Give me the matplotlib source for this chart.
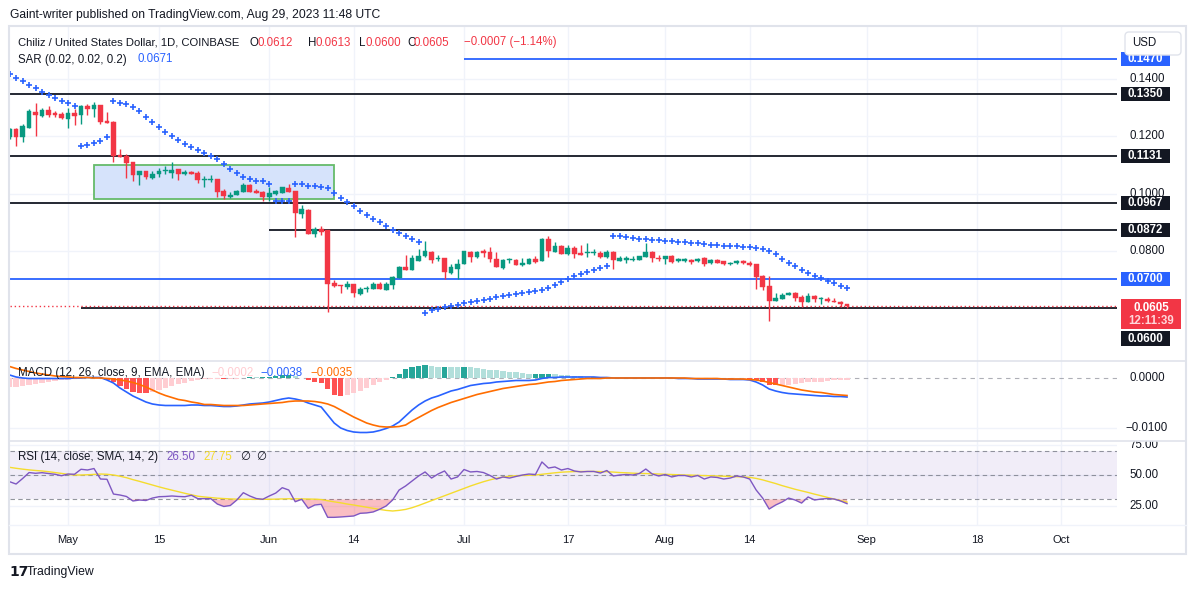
import numpy as np
import pandas as pd
import matplotlib
matplotlib.use("Agg")
import matplotlib.pyplot as plt
import matplotlib.dates as mdates
from matplotlib.patches import Rectangle, FancyBboxPatch
from matplotlib.lines import Line2D

plt.rcParams['font.family'] = ['Liberation Sans', 'DejaVu Sans']

# ---------------- data ----------------
dates = pd.date_range("2023-04-22", "2023-08-29", freq="D")

opens = [0.1198, 0.1225, 0.1199, 0.1230, 0.1285, 0.1272, 0.1292, 0.1283, 0.1278,
         0.1262, 0.1282, 0.1274, 0.1306, 0.1297, 0.1309, 0.1255, 0.1251, 0.1135, 0.1130,
         0.1110, 0.1065, 0.1079, 0.1055, 0.1069, 0.1078, 0.1073, 0.1087, 0.1069, 0.1075,
         0.1072, 0.1048, 0.1048, 0.1051, 0.1008, 0.0988, 0.0996, 0.1006, 0.1029, 0.1009, 0.1005,
         0.0989, 0.0997, 0.1003, 0.1019, 0.1009, 0.0929, 0.0942, 0.0860, 0.0875, 0.0871,
         0.0687, 0.0680, 0.0674, 0.0683, 0.0649, 0.0666, 0.0667, 0.0683, 0.0663, 0.0681,
         0.0705, 0.0743, 0.0733, 0.0765, 0.0780, 0.0796, 0.0772, 0.0773, 0.0723, 0.0737,
         0.0754, 0.0796, 0.0778, 0.0799, 0.0795, 0.0771, 0.0740, 0.0766, 0.0767, 0.0750,
         0.0754, 0.0771, 0.0765, 0.0840, 0.0796, 0.0816, 0.0789, 0.0809, 0.0793, 0.0791,
         0.0791, 0.0793, 0.0777, 0.0796, 0.0765, 0.0767, 0.0767, 0.0767, 0.0779, 0.0795, 0.0774,
         0.0772, 0.0780, 0.0764, 0.0764, 0.0767, 0.0764, 0.0774, 0.0756, 0.0768, 0.0763,
         0.0752, 0.0756, 0.0765, 0.0758, 0.0753, 0.0711, 0.0676, 0.0625, 0.0632, 0.0646,
         0.0652, 0.0639, 0.0621, 0.0641, 0.0631, 0.0631, 0.0624, 0.0620, 0.0612]
highs = [0.1229, 0.1228, 0.1243, 0.1296, 0.1317, 0.1299, 0.1305, 0.1290, 0.1286,
         0.1299, 0.1296, 0.1310, 0.1314, 0.1319, 0.1310, 0.1285, 0.1254, 0.1156, 0.1138,
         0.1110, 0.1079, 0.1079, 0.1079, 0.1089, 0.1097, 0.1110, 0.1087, 0.1082, 0.1079,
         0.1079, 0.1062, 0.1064, 0.1051, 0.1017, 0.1004, 0.1012, 0.1036, 0.1033, 0.1016, 0.1009,
         0.1024, 0.1012, 0.1024, 0.1032, 0.1009, 0.0959, 0.0946, 0.0883, 0.0886, 0.0871,
         0.0699, 0.0680, 0.0694, 0.0683, 0.0672, 0.0676, 0.0690, 0.0690, 0.0690, 0.0710,
         0.0746, 0.0785, 0.0786, 0.0806, 0.0834, 0.0800, 0.0785, 0.0773, 0.0753, 0.0770,
         0.0800, 0.0800, 0.0800, 0.0806, 0.0813, 0.0795, 0.0770, 0.0775, 0.0770, 0.0774,
         0.0774, 0.0781, 0.0843, 0.0851, 0.0830, 0.0819, 0.0820, 0.0816, 0.0819, 0.0827,
         0.0805, 0.0799, 0.0802, 0.0799, 0.0782, 0.0781, 0.0782, 0.0782, 0.0827, 0.0800, 0.0786,
         0.0781, 0.0784, 0.0774, 0.0774, 0.0771, 0.0773, 0.0778, 0.0771, 0.0771, 0.0764,
         0.0759, 0.0767, 0.0768, 0.0764, 0.0753, 0.0714, 0.0711, 0.0653, 0.0652, 0.0655,
         0.0654, 0.0644, 0.0652, 0.0645, 0.0637, 0.0637, 0.0633, 0.0623, 0.0613]
lows = [0.1191, 0.1167, 0.1181, 0.1229, 0.1202, 0.1269, 0.1267, 0.1267, 0.1261,
        0.1230, 0.1241, 0.1242, 0.1276, 0.1269, 0.1244, 0.1248, 0.1111, 0.1127, 0.1055,
        0.1045, 0.1031, 0.1052, 0.1051, 0.1059, 0.1067, 0.1055, 0.1048, 0.1065, 0.1067,
        0.1038, 0.1024, 0.1039, 0.0987, 0.0982, 0.0985, 0.0994, 0.1004, 0.1004, 0.1001, 0.0975,
        0.0975, 0.0995, 0.1003, 0.1006, 0.0849, 0.0915, 0.0857, 0.0849, 0.0856, 0.0586,
        0.0674, 0.0653, 0.0667, 0.0639, 0.0644, 0.0654, 0.0665, 0.0665, 0.0662, 0.0665,
        0.0703, 0.0732, 0.0732, 0.0764, 0.0779, 0.0758, 0.0764, 0.0701, 0.0718, 0.0701,
        0.0753, 0.0761, 0.0774, 0.0779, 0.0761, 0.0742, 0.0737, 0.0756, 0.0750, 0.0746,
        0.0753, 0.0758, 0.0764, 0.0779, 0.0795, 0.0788, 0.0784, 0.0775, 0.0784, 0.0779,
        0.0784, 0.0775, 0.0775, 0.0737, 0.0764, 0.0756, 0.0764, 0.0766, 0.0778, 0.0761, 0.0764,
        0.0752, 0.0758, 0.0760, 0.0762, 0.0754, 0.0761, 0.0747, 0.0754, 0.0756, 0.0751,
        0.0751, 0.0753, 0.0753, 0.0747, 0.0665, 0.0664, 0.0555, 0.0625, 0.0631, 0.0644,
        0.0623, 0.0602, 0.0620, 0.0620, 0.0614, 0.0620, 0.0620, 0.0604, 0.0600]
closes = [0.1226, 0.1199, 0.1236, 0.1289, 0.1275, 0.1292, 0.1276, 0.1276, 0.1265,
          0.1282, 0.1272, 0.1306, 0.1296, 0.1310, 0.1251, 0.1248, 0.1131, 0.1127, 0.1108,
          0.1065, 0.1079, 0.1059, 0.1068, 0.1079, 0.1080, 0.1083, 0.1069, 0.1075, 0.1069,
          0.1048, 0.1051, 0.1051, 0.1006, 0.0992, 0.0995, 0.1009, 0.1029, 0.1006, 0.1002, 0.0989,
          0.1001, 0.1008, 0.1022, 0.1006, 0.0933, 0.0946, 0.0860, 0.0875, 0.0866, 0.0684,
          0.0677, 0.0675, 0.0683, 0.0653, 0.0667, 0.0669, 0.0683, 0.0667, 0.0683, 0.0708,
          0.0744, 0.0733, 0.0774, 0.0781, 0.0799, 0.0768, 0.0775, 0.0726, 0.0743, 0.0753,
          0.0799, 0.0779, 0.0795, 0.0791, 0.0772, 0.0744, 0.0767, 0.0768, 0.0751, 0.0757,
          0.0771, 0.0760, 0.0841, 0.0800, 0.0816, 0.0789, 0.0809, 0.0789, 0.0786, 0.0793,
          0.0793, 0.0779, 0.0795, 0.0766, 0.0775, 0.0775, 0.0771, 0.0780, 0.0795, 0.0775, 0.0771,
          0.0780, 0.0760, 0.0771, 0.0772, 0.0761, 0.0772, 0.0753, 0.0768, 0.0758, 0.0752,
          0.0758, 0.0765, 0.0756, 0.0750, 0.0708, 0.0673, 0.0625, 0.0635, 0.0645, 0.0653,
          0.0635, 0.0620, 0.0641, 0.0630, 0.0633, 0.0623, 0.0621, 0.0612, 0.0605]
sar = [0.1418, 0.1405, 0.1393, 0.1380, 0.1369, 0.1354, 0.1344, 0.1333, 0.1323,
       0.1316, 0.1306, 0.1165, 0.1169, 0.1177, 0.1184, 0.1198, 0.1323, 0.1318, 0.1312,
       0.1302, 0.1288, 0.1267, 0.1249, 0.1232, 0.1214, 0.1200, 0.1186, 0.1173, 0.1162,
       0.1151, 0.1142, 0.1130, 0.1120, 0.1103, 0.1085, 0.1071, 0.1057, 0.1050, 0.1043, 0.1043,
       0.1032, 0.0973, 0.0973, 0.0973, 0.1032, 0.1032, 0.1027, 0.1025, 0.1022, 0.1018,
       0.1001, 0.0983, 0.0969, 0.0956, 0.0938, 0.0924, 0.0910, 0.0899, 0.0885, 0.0873,
       0.0861, 0.0850, 0.0840, 0.0829, 0.0583, 0.0591, 0.0595, 0.0602, 0.0605, 0.0610,
       0.0616, 0.0619, 0.0623, 0.0626, 0.0630, 0.0637, 0.0640, 0.0644, 0.0647, 0.0651,
       0.0654, 0.0658, 0.0661, 0.0668, 0.0679, 0.0689, 0.0700, 0.0710, 0.0717, 0.0725,
       0.0732, 0.0739, 0.0745, 0.0850, 0.0850, 0.0847, 0.0843, 0.0842, 0.0840, 0.0836, 0.0836,
       0.0833, 0.0833, 0.0829, 0.0829, 0.0826, 0.0826, 0.0822, 0.0820, 0.0820, 0.0817,
       0.0817, 0.0815, 0.0813, 0.0813, 0.0809, 0.0805, 0.0798, 0.0787, 0.0771, 0.0758,
       0.0745, 0.0732, 0.0722, 0.0710, 0.0703, 0.0694, 0.0687, 0.0678, 0.0671]

macd_line = [0.0006, 0.0002, 0.0000, -0.0001, -0.0001, -0.0001, -0.0001, -0.0001, -0.0001, -0.0001,
             0.0000, 0.0000, 0.0001, 0.0001, 0.0001, -0.0004, -0.0010, -0.0020, -0.0028, -0.0036,
             -0.0042, -0.0048, -0.0052, -0.0054, -0.0055, -0.0055, -0.0055, -0.0055, -0.0054, -0.0054,
             -0.0055, -0.0055, -0.0056, -0.0057, -0.0057, -0.0056, -0.0054, -0.0052, -0.0051, -0.0050,
             -0.0048, -0.0045, -0.0042, -0.0040, -0.0042, -0.0045, -0.0050, -0.0054, -0.0058, -0.0074,
             -0.0090, -0.0100, -0.0105, -0.0108, -0.0109, -0.0109, -0.0108, -0.0105, -0.0101, -0.0096,
             -0.0088, -0.0076, -0.0064, -0.0054, -0.0046, -0.0040, -0.0036, -0.0031, -0.0026, -0.0023,
             -0.0019, -0.0015, -0.0013, -0.0011, -0.0010, -0.0008, -0.0007, -0.0006, -0.0005, -0.0005,
             -0.0005, -0.0004, -0.0001, 0.0001, 0.0001, 0.0002, 0.0002, 0.0002, 0.0002, 0.0002,
             0.0002, 0.0001, 0.0001, 0.0000, 0.0000, 0.0000, 0.0000, 0.0000, 0.0000, 0.0000,
             0.0000, 0.0000, 0.0000, -0.0001, -0.0001, -0.0001, -0.0002, -0.0002, -0.0002, -0.0002,
             -0.0002, -0.0003, -0.0003, -0.0003, -0.0004, -0.0008, -0.0014, -0.0022, -0.0026, -0.0029,
             -0.0031, -0.0032, -0.0033, -0.0034, -0.0035, -0.0036, -0.0036, -0.0037, -0.0037, -0.0038]
signal_line = [0.0023, 0.0019, 0.0016, 0.0013, 0.0010, 0.0008, 0.0006, 0.0004, 0.0003, 0.0002,
               0.0001, 0.0001, 0.0001, 0.0000, 0.0000, -0.0001, -0.0002, -0.0004, -0.0006, -0.0009,
               -0.0013, -0.0018, -0.0024, -0.0030, -0.0035, -0.0039, -0.0043, -0.0045, -0.0048, -0.0050,
               -0.0053, -0.0053, -0.0054, -0.0055, -0.0055, -0.0055, -0.0055, -0.0054, -0.0053, -0.0052,
               -0.0051, -0.0050, -0.0049, -0.0047, -0.0046, -0.0046, -0.0046, -0.0047, -0.0049, -0.0052,
               -0.0057, -0.0064, -0.0071, -0.0078, -0.0084, -0.0090, -0.0094, -0.0097, -0.0098, -0.0098,
               -0.0097, -0.0094, -0.0086, -0.0079, -0.0072, -0.0065, -0.0059, -0.0054, -0.0049, -0.0045,
               -0.0041, -0.0037, -0.0033, -0.0030, -0.0027, -0.0024, -0.0021, -0.0019, -0.0017, -0.0015,
               -0.0013, -0.0012, -0.0010, -0.0008, -0.0007, -0.0005, -0.0004, -0.0003, -0.0002, -0.0001,
               -0.0001, -0.0001, 0.0000, 0.0000, 0.0000, 0.0000, 0.0000, 0.0000, 0.0000, 0.0000,
               0.0000, 0.0000, 0.0000, 0.0000, 0.0000, -0.0001, -0.0001, -0.0001, -0.0001, -0.0001,
               -0.0002, -0.0002, -0.0002, -0.0002, -0.0003, -0.0004, -0.0006, -0.0009, -0.0012, -0.0015,
               -0.0018, -0.0021, -0.0024, -0.0026, -0.0028, -0.0029, -0.0031, -0.0033, -0.0034, -0.0035]
macd_hist_last = -0.0002

rsi = [44.5, 42.6, 47.1, 52.0, 51.4, 51.9, 51.2, 50.6, 49.4, 50.8,
       50.6, 54.7, 54.1, 55.3, 46.7, 46.5, 34.4, 33.6, 32.4, 28.7,
       29.5, 29.1, 31.1, 32.2, 32.4, 32.8, 32.4, 32.2, 33.4, 30.6,
       30.6, 30.6, 26.2, 24.2, 25.0, 29.5, 35.5, 32.8, 30.7, 30.1,
       32.8, 35.2, 39.6, 37.7, 28.1, 30.1, 22.7, 25.4, 26.0, 15.3,
       15.3, 15.6, 16.0, 16.4, 18.6, 18.9, 19.7, 21.9, 24.6, 29.5,
       37.7, 41.0, 45.1, 49.2, 52.5, 47.5, 50.8, 53.3, 46.7, 48.4,
       54.5, 52.5, 52.9, 52.0, 49.6, 46.7, 48.4, 47.5, 48.8, 50.0,
       50.8, 50.4, 60.7, 55.7, 56.6, 54.1, 55.3, 53.3, 52.5, 52.9,
       52.9, 51.6, 53.7, 49.2, 50.0, 50.4, 50.0, 51.2, 54.9, 50.8,
       49.2, 50.4, 48.4, 49.6, 49.6, 48.4, 49.6, 46.7, 48.4, 48.0,
       46.7, 47.5, 49.2, 48.4, 46.7, 37.7, 31.1, 22.1, 25.4, 27.9,
       31.1, 29.5, 27.0, 32.0, 29.5, 30.3, 30.7, 30.3, 28.7, 26.5]
rsi_ma = [56.3, 55.5, 54.8, 54.2, 53.7, 53.3, 52.7, 52.0, 51.3, 50.5,
          50.0, 50.0, 50.2, 50.5, 50.8, 50.6, 50.0, 49.0, 47.8, 46.2,
          44.8, 43.3, 41.8, 40.3, 38.9, 37.6, 36.3, 35.0, 33.8, 32.6,
          32.0, 31.5, 31.0, 30.7, 30.4, 30.2, 30.1, 30.1, 30.1, 30.1,
          30.1, 30.2, 30.4, 30.5, 30.5, 30.4, 30.3, 30.2, 29.9, 28.9,
          28.0, 27.2, 26.2, 25.4, 24.5, 23.6, 22.7, 21.8, 21.0, 20.5,
          21.0, 21.8, 23.2, 25.0, 27.0, 29.0, 31.0, 33.0, 35.0, 37.0,
          39.0, 41.0, 42.8, 44.5, 46.0, 47.3, 48.3, 49.0, 49.4, 49.6,
          49.8, 50.0, 50.6, 51.2, 51.8, 52.3, 52.6, 52.8, 52.9, 52.9,
          52.9, 52.8, 52.7, 52.4, 52.0, 51.8, 51.5, 51.3, 51.2, 51.0,
          50.8, 50.6, 50.4, 50.2, 50.0, 49.9, 49.7, 49.5, 49.4, 49.2,
          49.0, 48.8, 48.6, 48.4, 48.1, 47.2, 46.0, 44.5, 43.0, 41.3,
          39.8, 38.3, 37.0, 35.7, 34.3, 33.0, 31.6, 30.3, 29.0, 27.75]

level_prices = [0.1470, 0.1350, 0.1131, 0.0967, 0.0872, 0.0700, 0.0600]
level_starts = ["2023-07-01", None, None, None, "2023-06-01", None, "2023-05-03"]
level_colors = ["#2962ff", "#131722", "#131722", "#131722", "#131722", "#2962ff", "#131722"]
zone_start, zone_end = "2023-05-05", "2023-06-11"
zone_top, zone_bottom = 0.1099, 0.0980
price_grid = [0.0800, 0.1000, 0.1200, 0.1400]
tick_dates = ["2023-05-01", "2023-05-15", "2023-06-01", "2023-06-14", "2023-07-01", "2023-07-17",
              "2023-08-01", "2023-08-14", "2023-09-01", "2023-09-18", "2023-10-01"]
tick_labels = ["May", "15", "Jun", "14", "Jul", "17", "Aug", "14", "Sep", "18", "Oct"]
countdown = "12:11:39"

# ---------------- styling ----------------
W, H = 1195, 589
GREEN, RED, BLUE, ORANGE = "#089981", "#f23645", "#2962ff", "#ff6d00"
DARK, GRIDC, BORDER = "#131722", "#f0f3fa", "#e0e3eb"
PURPLE, YELLOW = "#7e57c2", "#f5dc2e"

x = mdates.date2num(dates)
o, h, l, c = map(np.array, (opens, highs, lows, closes))
xl = (mdates.date2num(pd.Timestamp("2023-04-22 01:30")), mdates.date2num(pd.Timestamp("2023-10-09 14:00")))

fig = plt.figure(figsize=(W / 100, H / 100), dpi=100)
fig.patch.set_facecolor("white")


def rect(x0, y0, x1, y1):
    return [x0 / W, 1 - y1 / H, (x1 - x0) / W, (y1 - y0) / H]


def ftxt(xp, yp, s, **kw):
    kw.setdefault("va", "center")
    kw.setdefault("ha", "left")
    kw.setdefault("fontsize", 8)
    kw.setdefault("color", DARK)
    fig.text(xp / W, 1 - yp / H, s, **kw)


MAIN_T, MAIN_B, MACD_B, RSI_B = 27, 361, 441, 525
ax = fig.add_axes(rect(10, MAIN_T, 1117, MAIN_B))
axm = fig.add_axes(rect(10, MAIN_B, 1117, MACD_B))
axr = fig.add_axes(rect(10, MACD_B, 1117, RSI_B))
main_ylim = (0.04138, 0.15828)
macd_ylim = (-0.0126, 0.0034)
rsi_ylim = (9.02, 77.87)

tick_x = mdates.date2num(pd.to_datetime(tick_dates))
for a in (ax, axm, axr):
    a.set_xlim(*xl)
    for s in a.spines.values():
        s.set_visible(False)
    a.set_xticks(tick_x)
    a.tick_params(axis="both", length=0, labelleft=False, labelbottom=False)
    a.grid(True, color=GRIDC, lw=1)
    a.set_axisbelow(True)

# ---- main pane ----
ax.set_ylim(*main_ylim)
ax.set_yticks(price_grid)
zs, ze = mdates.date2num(pd.Timestamp(zone_start)), mdates.date2num(pd.Timestamp(zone_end))
ax.add_patch(Rectangle((zs, zone_bottom), ze - zs, zone_top - zone_bottom, fc="#d6e3fb",
                       ec="#66bb6a", lw=1.3, zorder=1))
for p, st, col in zip(level_prices, level_starts, level_colors):
    xs = xl[0] if st is None else mdates.date2num(pd.Timestamp(st))
    ax.hlines(p, xs, xl[1], color=col, lw=1.3, zorder=2)
ax.hlines(c[-1], xl[0], xl[1], color=RED, lw=1, linestyles=(0, (1, 2)), zorder=2.5)

cols = np.where(c >= o, GREEN, RED)
ax.vlines(x, l, h, colors=cols, lw=1, zorder=3)
body_lo = np.minimum(o, c)
body_h = np.maximum(np.abs(c - o), 0.00035)
ax.bar(x, body_h, bottom=body_lo, width=0.74, color=cols, edgecolor=cols, lw=0.3, zorder=3.5)
ax.plot(x, sar, ls="none", marker="+", ms=3.8, mew=1.2, color=BLUE, zorder=4)

# ---- MACD pane ----
axm.set_ylim(*macd_ylim)
axm.set_yticks([-0.01])
ml, sl = np.array(macd_line), np.array(signal_line)
hist = ml - sl
prev = np.concatenate([[hist[0]], hist[:-1]])
hcols = np.where(hist >= 0, np.where(hist >= prev, "#26a69a", "#b2dfdb"),
                 np.where(hist < prev, "#ff5252", "#ffcdd2"))
axm.bar(x, hist, width=0.8, color=hcols, lw=0, zorder=2)
axm.axhline(0, color="#787b86", lw=0.8, ls=(0, (4, 4)), alpha=0.6, zorder=1.5)
axm.plot(x, ml, color=BLUE, lw=1.2, zorder=3)
axm.plot(x, sl, color=ORANGE, lw=1.2, zorder=3)

# ---- RSI pane ----
axr.set_ylim(*rsi_ylim)
axr.set_yticks([25, 50, 75])
rv, rm = np.array(rsi), np.array(rsi_ma)
axr.axhspan(30, 70, color=PURPLE, alpha=0.1, lw=0, zorder=1)
for lvl in (70, 50, 30):
    axr.axhline(lvl, color="#787b86", lw=0.8, ls=(0, (4, 3)), alpha=0.8, zorder=1.5)
axr.fill_between(x, rv, 30, where=rv < 30, interpolate=True, color=RED, alpha=0.32, lw=0, zorder=2)
axr.plot(x, rm, color=YELLOW, lw=1, zorder=3)
axr.plot(x, rv, color=PURPLE, lw=1, zorder=3.5)
axr.set_xticklabels(tick_labels)
axr.tick_params(axis="x", labelbottom=True, labelsize=8, labelcolor=DARK, pad=7.5)

# ---- price scales ----
def scale_axes(y0, y1, ylim):
    s = fig.add_axes(rect(1117, y0, 1187, y1))
    s.set_xlim(1117, 1187)
    s.set_ylim(*ylim)
    s.axis("off")
    return s


sp = scale_axes(MAIN_T, MAIN_B, main_ylim)
upp = (main_ylim[1] - main_ylim[0]) / (MAIN_B - MAIN_T)
for p in price_grid:
    sp.text(1129, p, f"{p:.4f}", va="center", ha="left", fontsize=8.3, color=DARK,
            clip_on=True, zorder=2)


def box(axs, yc, text, fc, hpx, u, x0=1121, w=49, tc="white"):
    axs.add_patch(Rectangle((x0, yc - hpx * u / 2), w, hpx * u, fc=fc, ec="none", zorder=3))
    axs.text(x0 + w / 2, yc, text, va="center", ha="center", fontsize=8.3, color=tc,
             fontweight="bold", zorder=4, clip_on=True)


for p, col in zip(level_prices[:-1], level_colors[:-1]):
    box(sp, p, f"{p:.4f}", col, 14, upp)
# current price label
sp.add_patch(Rectangle((1121, c[-1] - 23 * upp), 60, 30 * upp, fc=RED, ec="none", zorder=3))
sp.text(1151, c[-1] - 1.5 * upp, f"{c[-1]:.4f}", va="center", ha="center", fontsize=8.3,
        color="white", fontweight="bold", zorder=4)
sp.text(1151, c[-1] - 14.5 * upp, countdown, va="center", ha="center", fontsize=8.3,
        color="#ffd6da", fontweight="bold", zorder=4)
box(sp, level_prices[-1] - 31 * upp, f"{level_prices[-1]:.4f}", DARK, 15, upp)

smc = scale_axes(MAIN_B, MACD_B, macd_ylim)
smc.text(1129, 0, "0.0000", va="center", ha="left", fontsize=8.3, color=DARK)
smc.text(1125, -0.01, "\u22120.0100", va="center", ha="left", fontsize=8.3, color=DARK)
srs = scale_axes(MACD_B, RSI_B, rsi_ylim)
for v in (75, 50, 25):
    srs.text(1129, v, f"{v:.2f}", va="center", ha="left", fontsize=8.3, color=DARK, clip_on=True)

# ---- overlay (frame, separators, button) ----
ov = fig.add_axes([0, 0, 1, 1], zorder=10)
ov.set_xlim(0, W)
ov.set_ylim(H, 0)
ov.axis("off")
ov.patch.set_visible(False)
ov.add_patch(Rectangle((9, 26), 1177, 528, fill=False, ec=BORDER, lw=1.5))
for yy in (MAIN_B, MACD_B):
    ov.add_line(Line2D([9, 1186], [yy, yy], color=BORDER, lw=1.2))
ov.add_line(Line2D([9, 1186], [RSI_B, RSI_B], color="#f0f3fa", lw=1))
ov.add_patch(FancyBboxPatch((1125, 32), 56, 23, boxstyle="round,pad=0,rounding_size=4",
                            fc="white", ec=BORDER, lw=1, zorder=5))
ov.text(1144, 43.5, "USD", ha="center", va="center", fontsize=8.3, color=DARK, zorder=6)

# ---- texts ----
ftxt(10, 15, "Gaint-writer published on TradingView.com, Aug 29, 2023 11:48 UTC", fontsize=8.7)
ftxt(18, 42.5, "Chiliz / United States Dollar, 1D, COINBASE", fontsize=8.1)
chg = c[-1] - c[-2]
pct = chg / c[-2] * 100
for xp, s, col in [(250, "O", DARK), (257.5, f"{o[-1]:.4f}", RED), (308, "H", DARK), (316, f"{h[-1]:.4f}", RED),
                   (359, "L", DARK), (365.5, f"{l[-1]:.4f}", RED), (407.6, "C", DARK), (414, f"{c[-1]:.4f}", RED),
                   (464, f"\u2212{abs(chg):.4f} (\u2212{abs(pct):.2f}%)", RED)]:
    ftxt(xp, 42.5, s, color=col, fontsize=8.3)
ftxt(18, 59.5, "SAR (0.02, 0.02, 0.2)", fontsize=8.3)
ftxt(137, 59.5, f"{sar[-1]:.4f}", color=BLUE, fontsize=8.3)

ftxt(18, 372.7, "MACD (12, 26, close, 9, EMA, EMA)", fontsize=8.3)
ftxt(211, 372.7, f"\u2212{abs(macd_hist_last):.4f}", color="#ffcdd2", fontsize=8.3)
ftxt(260, 372.7, f"\u2212{abs(ml[-1]):.4f}", color=BLUE, fontsize=8.3)
ftxt(310, 372.7, f"\u2212{abs(sl[-1]):.4f}", color=ORANGE, fontsize=8.3)

ftxt(18, 456.7, "RSI (14, close, SMA, 14, 2)", fontsize=8.3)
ftxt(166, 456.7, f"{rv[-1]:.2f}", color=PURPLE, fontsize=8.3)
ftxt(203, 456.7, f"{rm[-1]:.2f}", color=YELLOW, fontsize=8.3)
ftxt(240, 456.7, "\u2205", fontsize=8.3)
ftxt(256, 456.7, "\u2205", fontsize=8.3)

ftxt(9, 572, "17", fontsize=10, fontweight="heavy", family="DejaVu Sans")
ftxt(27, 572, "TradingView", fontsize=8.8)

fig.savefig("out.png", dpi=100)
